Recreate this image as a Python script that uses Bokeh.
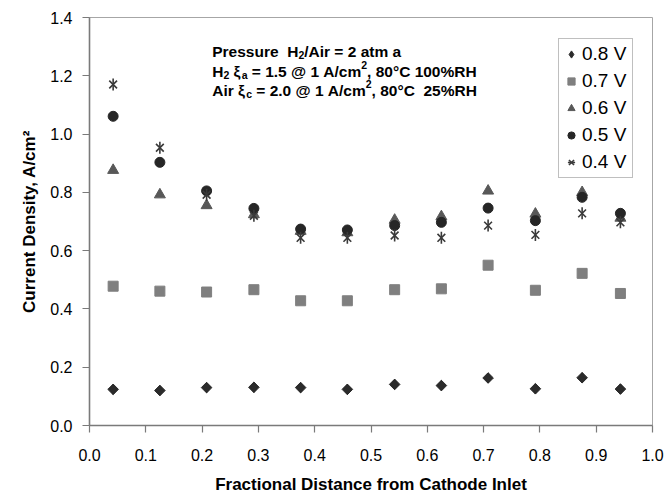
import numpy as np
from bokeh.plotting import figure
from bokeh.models import ColumnDataSource, Legend, LegendItem, Range1d, FixedTicker
from bokeh.core.properties import value
from bokeh.embed import file_html
from bokeh.resources import INLINE

# ---- data ----
x_pos = [0.042, 0.125, 0.208, 0.292, 0.375, 0.458, 0.542, 0.625, 0.708, 0.792, 0.875, 0.943]
v08 = [0.124, 0.120, 0.130, 0.131, 0.130, 0.124, 0.141, 0.137, 0.163, 0.126, 0.164, 0.125]
v07 = [0.478, 0.461, 0.458, 0.466, 0.428, 0.428, 0.466, 0.469, 0.550, 0.464, 0.522, 0.453]
v06 = [0.876, 0.792, 0.755, 0.724, 0.667, 0.662, 0.705, 0.717, 0.805, 0.726, 0.800, 0.712]
v05 = [1.061, 0.903, 0.805, 0.745, 0.674, 0.671, 0.686, 0.697, 0.746, 0.703, 0.783, 0.728]
v04 = [1.170, 0.953, 0.792, 0.720, 0.644, 0.644, 0.652, 0.644, 0.686, 0.654, 0.728, 0.697]
series_labels = ["0.8 V", "0.7 V", "0.6 V", "0.5 V", "0.4 V"]
x_ticks = [0.0, 0.1, 0.2, 0.3, 0.4, 0.5, 0.6, 0.7, 0.8, 0.9, 1.0]
y_ticks = [0.0, 0.2, 0.4, 0.6, 0.8, 1.0, 1.2, 1.4]
x_title = "Fractional Distance from Cathode Inlet"
y_title = "Current Density, A/cm\u00b2"

# annotation lines: (text, kind) with kind n=normal, sub, sup
ann_lines = [
    [("Pressure  H", "n"), ("2", "sub"), ("/Air = 2 atm a", "n")],
    [("H", "n"), ("2", "sub"), (" \u03be", "n"), ("a", "sub"),
     (" = 1.5 @ 1 A/cm", "n"), ("2", "sup"), (", 80\u00b0C 100%RH", "n")],
    [("Air \u03be", "n"), ("c", "sub"), (" = 2.0 @ 1 A/cm", "n"), ("2", "sup"),
     (", 80\u00b0C  25%RH", "n")],
]
ann_x = 0.218
ann_y = [1.283, 1.215, 1.151]

FONT = "Liberation Sans"

p = figure(output_backend="svg", toolbar_location=None,
           frame_width=563, frame_height=408,
           min_border_left=89, min_border_right=19, min_border_top=17, min_border_bottom=75,
           x_range=Range1d(0, 1), y_range=Range1d(0, 1.4),
           background_fill_color="white", border_fill_color="white")
p.grid.visible = False
p.outline_line_color = "#a6a6a6"
p.outline_line_width = 1

for ax in (p.xaxis[0], p.yaxis[0]):
    ax.axis_line_color = "#7a7a7a"
    ax.axis_line_width = 1.6
    ax.major_tick_line_color = "#7a7a7a"
    ax.major_tick_line_width = 1.2
    ax.major_tick_in = 0
    ax.major_tick_out = 7
    ax.minor_tick_line_color = None
    ax.major_label_text_font = FONT
    ax.major_label_text_font_size = "16px"
    ax.major_label_text_color = "black"
    ax.axis_label_text_font = FONT
    ax.axis_label_text_font_size = "17px"
    ax.axis_label_text_font_style = "bold"
    ax.axis_label_text_color = "black"

p.xaxis.ticker = FixedTicker(ticks=x_ticks)
p.yaxis.ticker = FixedTicker(ticks=y_ticks)
p.xaxis.major_label_overrides = {t: f"{t:.1f}" for t in x_ticks}
p.yaxis.major_label_overrides = {t: f"{t:.1f}" for t in y_ticks}
p.xaxis.axis_label = x_title
p.yaxis.axis_label = y_title
p.xaxis.major_label_standoff = 16
p.yaxis.major_label_standoff = 10
p.xaxis.axis_label_standoff = 11
p.yaxis.axis_label_standoff = 8

src = ColumnDataSource(dict(x=x_pos, v08=v08, v07=v07, v06=v06, v05=v05, v04=v04))

# diamonds: a rotated square body plus Bokeh's diamond marker (which also serves as legend key)
r08 = p.scatter("x", "v08", source=src, marker="square", size=7.5, angle=np.pi / 4,
                color="#2b2b2b")
r08_key = p.scatter("x", "v08", source=src, marker="diamond", size=10, color="#2b2b2b")
r07 = p.scatter("x", "v07", source=src, marker="square", size=10, color="#7f7f7f")
r06 = p.scatter("x", "v06", source=src, marker="triangle", size=11, color="#585858")
r05 = p.scatter("x", "v05", source=src, marker="circle", size=10, color="#262626")
r04a = p.scatter("x", "v04", source=src, marker="x", size=11, line_color="#3a3a3a", line_width=1.6)
r04b = p.scatter("x", "v04", source=src, marker="dash", size=12, angle=np.pi / 2,
                 line_color="#3a3a3a", line_width=1.6)

legend = Legend(items=[
    LegendItem(label=series_labels[0], renderers=[r08_key]),
    LegendItem(label=series_labels[1], renderers=[r07]),
    LegendItem(label=series_labels[2], renderers=[r06]),
    LegendItem(label=series_labels[3], renderers=[r05]),
    LegendItem(label=series_labels[4], renderers=[r04a, r04b]),
], location=(469, 247))
legend.label_text_font = FONT
legend.label_text_font_size = "19px"
legend.label_text_color = "black"
legend.border_line_color = "#808080"
legend.border_line_width = 1
legend.background_fill_color = "white"
legend.padding = 3
legend.glyph_width = 18
legend.glyph_height = 22
legend.label_height = 24
legend.label_standoff = 2
legend.label_width = 47
legend.spacing = 3
legend.margin = 0
p.add_layout(legend)

# ---- rich text annotation, piece by piece ----
WID = {" ": 278, "%": 889, ",": 278, ".": 278, "/": 278, "=": 584, "@": 975,
       "A": 722, "C": 722, "H": 722, "P": 667, "R": 722, "a": 556, "c": 556,
       "e": 556, "i": 278, "m": 889, "r": 389, "s": 556, "t": 333, "u": 611,
       "\u00b0": 400, "\u03be": 520}
MAIN = 15.5
SMALL = 10.5


def twidth(s, fs):
    return sum(WID.get(ch, 556) for ch in s) * fs / 1000.0


xs, ys, txt, xo, yo, fsz = [], [], [], [], [], []
for line, yv in zip(ann_lines, ann_y):
    off = 0.0
    for s, kind in line:
        fs = MAIN if kind == "n" else SMALL
        xs.append(ann_x)
        ys.append(yv)
        txt.append(s.replace(" ", "\u00a0"))
        xo.append(off)
        yo.append(0 if kind == "n" else (3.5 if kind == "sub" else -6.5))
        fsz.append(f"{fs}px")
        off += twidth(s, fs)

asrc = ColumnDataSource(dict(x=xs, y=ys, text=txt, xo=xo, yo=yo, fs=fsz))
p.text(x="x", y="y", text="text", x_offset="xo", y_offset="yo", source=asrc,
       text_font=value(FONT), text_font_style="bold", text_font_size="fs",
       text_color="black", text_baseline="alphabetic", text_align="left")

open("out.html", "w").write(file_html(p, INLINE))
